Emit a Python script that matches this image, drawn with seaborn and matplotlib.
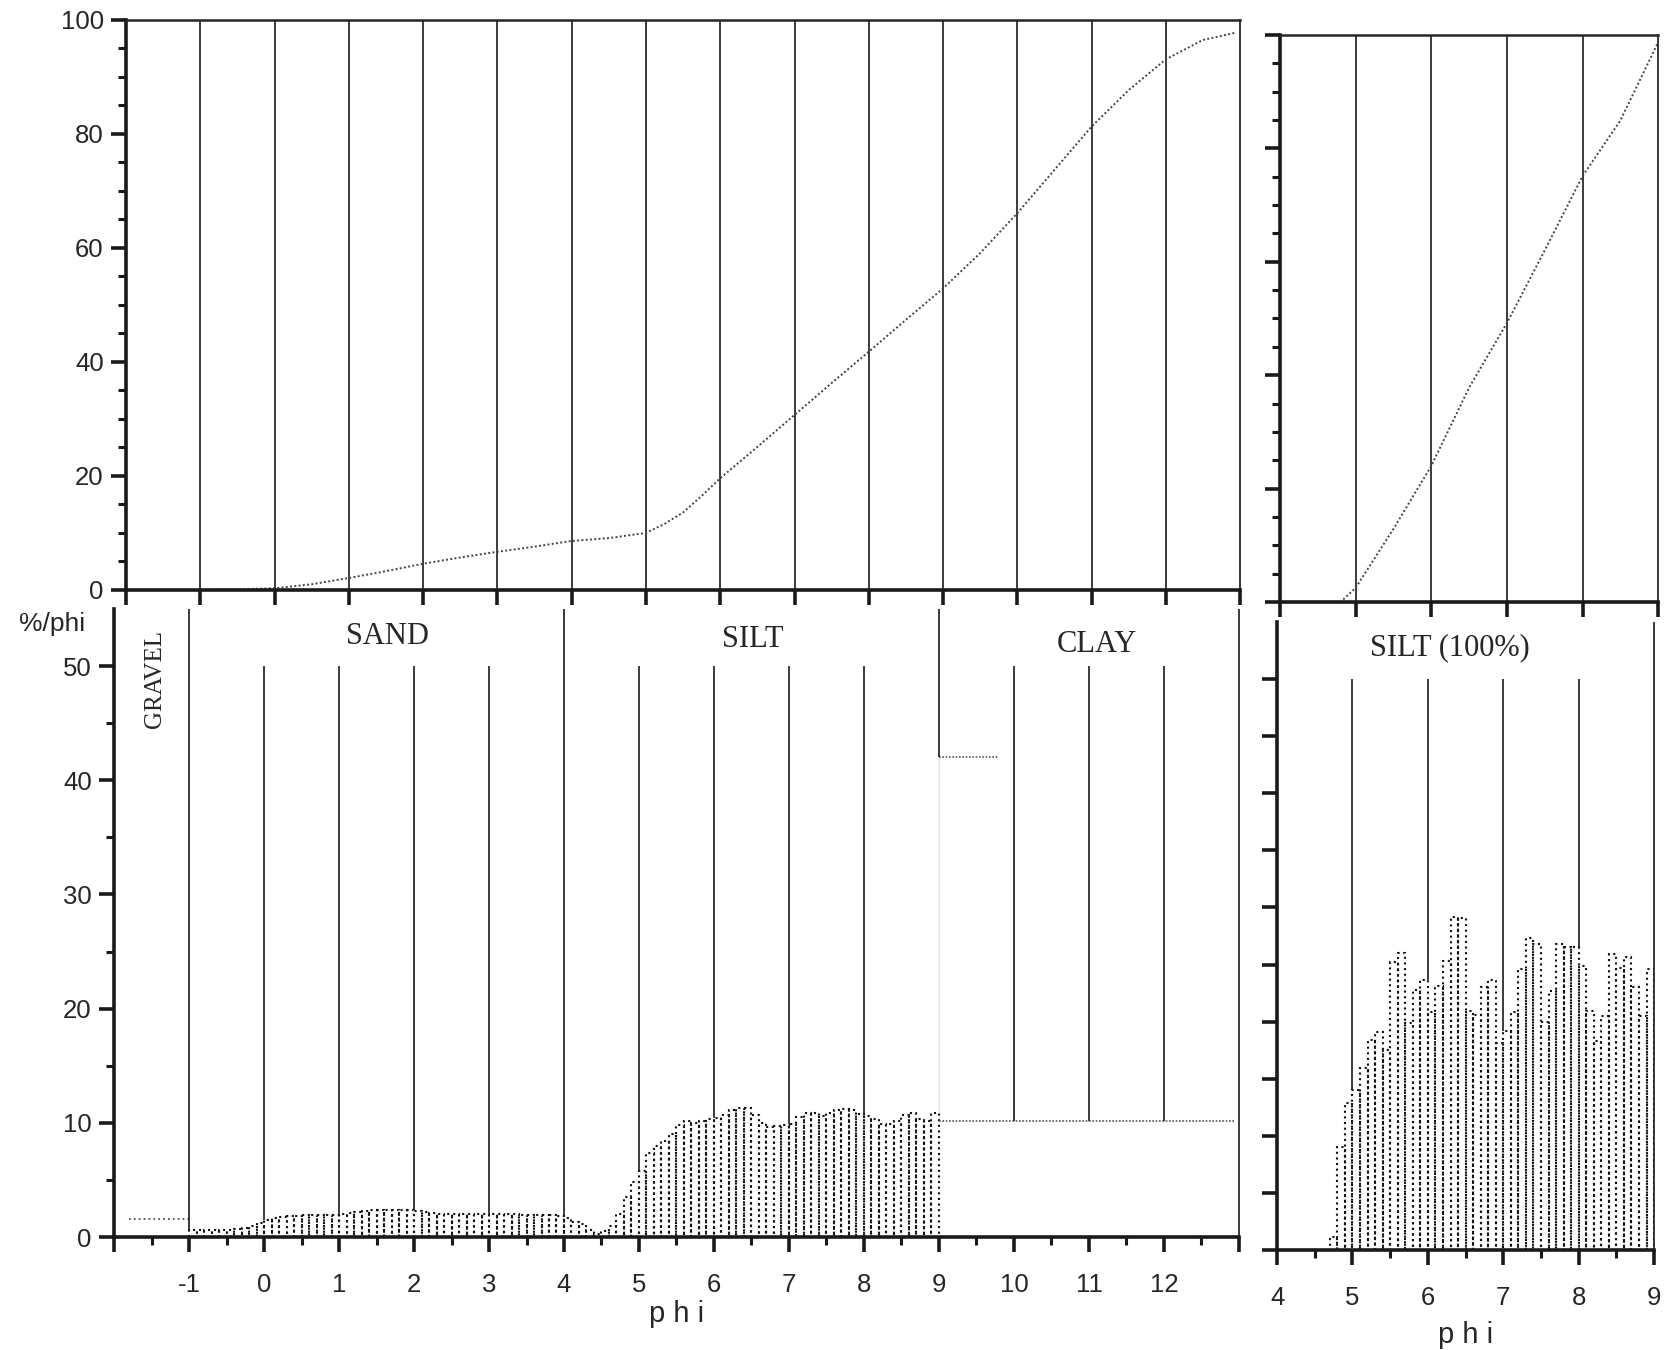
import numpy as np
import pandas as pd
import matplotlib
matplotlib.use("Agg")
import matplotlib.pyplot as plt
import seaborn as sns

# cumulative curve of the whole sample (%)
cum_phi = [-1, -0.5, 0, 0.5, 1, 1.5, 2, 2.5, 3, 3.5, 4, 4.5, 5, 5.25, 5.5,
           5.75, 6, 6.5, 7, 7.5, 8, 8.5, 9, 9.5, 10, 10.5, 11, 11.5, 12,
           12.5, 12.95]
cum_pct = [0, 0.1, 0.3, 1.0, 2.1, 3.3, 4.6, 5.7, 6.7, 7.6, 8.6, 9.1, 10.0,
           11.6, 13.6, 16.5, 19.6, 25.1, 30.7, 36.3, 41.8, 47.4, 52.9, 59.1,
           66.1, 73.7, 81.3, 87.7, 93.1, 96.5, 97.8]

# cumulative curve of the silt fraction alone (%)
silt_cum_phi = [4, 4.8, 5, 5.5, 6, 6.5, 7, 7.5, 8, 8.5, 9]
silt_cum_pct = [0, 0, 2.5, 12.9, 24.0, 37.8, 49.2, 62.0, 75.1, 84.9, 98.7]

# frequency (%/phi) in 0.1 phi classes from -1 to 9 phi
freq_start = -1.0
freq = [0.65, 0.65, 0.6, 0.6, 0.6, 0.65, 0.7, 0.8, 0.95, 1.2,
        1.5, 1.65, 1.75, 1.8, 1.85, 1.9, 1.9, 1.9, 1.9, 1.95,
        2.0, 2.1, 2.2, 2.3, 2.4, 2.4, 2.4, 2.4, 2.4, 2.35,
        2.3, 2.2, 2.1, 2.05, 2.05, 2.0, 2.0, 2.0, 2.0, 2.0,
        2.0, 2.0, 2.0, 2.0, 1.95, 1.95, 1.95, 1.95, 1.9, 1.85,
        1.7, 1.3, 1.1, 0.6, 0.3, 0.5, 1.0, 2.0, 3.5, 4.8,
        5.8, 7.4, 8.0, 8.4, 9.0, 9.8, 10.2, 10.0, 10.2, 10.3,
        10.4, 10.7, 11.1, 11.3, 11.3, 10.7, 10.0, 9.6, 9.7, 9.8,
        9.9, 10.5, 10.9, 10.9, 10.6, 10.9, 11.1, 11.2, 11.1, 10.8,
        10.6, 10.3, 9.9, 9.9, 10.2, 10.7, 10.9, 10.3, 10.2, 10.9]

gravel_phi = [-1.8, -1.0]
gravel_freq = 1.6
clay_phi = [9, 12.95]
clay_freq = 10.2
clay_total_phi = [9, 9.8]
clay_total = 42

# silt fraction alone, %/phi in 0.1 phi classes from 4 to 9 phi
silt_start = 4.0
silt_freq = [0, 0, 0, 0, 0, 0, 0,
             1.1, 9.0, 12.9, 14.0, 15.9, 18.4, 19.1, 17.5, 25.2, 26.0, 19.9,
             22.8, 23.6, 20.8, 23.1, 25.3, 29.2, 29.1, 20.9, 20.6, 23.0, 23.6,
             18.1, 19.2, 20.8, 24.6, 27.3, 26.8, 20.0, 22.7, 26.8, 26.5, 26.5,
             24.9, 20.9, 18.3, 20.5, 25.9, 24.7, 25.7, 23.0, 20.5, 24.6]

sns.set_style("white")
plt.rcParams['font.family'] = ['Liberation Sans', 'DejaVu Sans']
SERIF = ['Liberation Serif', 'DejaVu Serif']
INK = '#1a1a1a'
DOT = (0, (1, 1.7))

fig = plt.figure(figsize=(16.72, 13.5), dpi=100)
ax_cum = fig.add_axes([0.0754, 0.5630, 0.6663, 0.4222])
ax_frq = fig.add_axes([0.0682, 0.0837, 0.6728, 0.4652])
ax_scum = fig.add_axes([0.7656, 0.5541, 0.2261, 0.4200])
ax_sfrq = fig.add_axes([0.7638, 0.0741, 0.2255, 0.4652])


def bar_top(x, start, vals):
    i = int(round((x - start) / 0.1))
    near = [vals[j] for j in (i - 1, i) if 0 <= j < len(vals)]
    return max(near) if near else 0


def hist_frame(start, vals):
    centers = [round(start + 0.1 * i + 0.05, 3) for i in range(len(vals))]
    return pd.DataFrame({'phi': centers, 'pct': vals})


def style_axes(ax, full_box):
    for s in ['left', 'bottom']:
        ax.spines[s].set_linewidth(2.6)
        ax.spines[s].set_color(INK)
    ax.spines['top'].set_visible(full_box)
    ax.spines['right'].set_visible(full_box)
    ax.spines['top'].set_linewidth(1.8)
    ax.spines['right'].set_linewidth(1.3)
    ax.tick_params(bottom=True, left=True, which='both')
    ax.tick_params(which='major', direction='out', length=11, width=2.6,
                   color=INK, labelsize=18.5, pad=5)
    ax.tick_params(which='minor', direction='out', length=6, width=2.2,
                   color=INK)
    ax.set_xlabel('')
    ax.set_ylabel('')


# ---- top left: cumulative curve
ax = ax_cum
ax.vlines(np.arange(-1, 13), 0, 100, color=INK, lw=1.2)
sns.lineplot(x=cum_phi, y=cum_pct, ax=ax, color='#444444', lw=1.4,
             linestyle=(0, (1, 1.2)))
ax.set_xlim(-2, 13)
ax.set_ylim(0, 100)
style_axes(ax, True)
ax.set_xticks(np.arange(-2, 14))
ax.set_xticklabels([])
ax.set_yticks(np.arange(0, 101, 20))
ax.set_yticks(np.arange(0, 101, 5), minor=True)

# ---- bottom left: frequency histogram
ax = ax_frq
df = hist_frame(freq_start, freq)
sns.histplot(data=df, x='phi', weights='pct', binwidth=0.1,
             binrange=(freq_start, freq_start + 0.1 * len(freq)), ax=ax,
             fill=False, element='bars', color='#111111', linestyle=DOT,
             linewidth=1.5)
sns.lineplot(x=gravel_phi, y=[gravel_freq] * 2, ax=ax, color='#555555',
             lw=1.3, linestyle=DOT)
sns.lineplot(x=clay_phi, y=[clay_freq] * 2, ax=ax, color='#555555',
             lw=1.2, linestyle=(0, (1, 1)))
sns.lineplot(x=[clay_total_phi[0]] * 2, y=[clay_freq, clay_total], ax=ax,
             color='#777777', lw=1.2, linestyle=(0, (1, 1)))
sns.lineplot(x=clay_total_phi, y=[clay_total] * 2, ax=ax, color='#555555',
             lw=1.2, linestyle=(0, (1, 1)))
for k in range(0, 13):
    if k in (4, 9):
        continue
    low = clay_freq if k > 9 else bar_top(k, freq_start, freq)
    ax.vlines(k, low, 50, color=INK, lw=1.2)
ax.vlines(-1, freq[0], 55, color=INK, lw=1.2)
ax.vlines(4, bar_top(4, freq_start, freq), 55, color=INK, lw=1.2)
ax.vlines(9, clay_total, 55, color=INK, lw=1.2)
ax.vlines(13, 0, 55, color=INK, lw=1.2, clip_on=False)
ax.set_xlim(-2, 13)
ax.set_ylim(0, 55)
style_axes(ax, False)
ax.set_xticks(np.arange(-2, 14))
ax.set_xticklabels([''] + [str(v) for v in range(-1, 13)] + [''])
ax.set_xticks(np.arange(-1.5, 13, 1), minor=True)
ax.set_yticks(np.arange(0, 51, 10))
ax.set_yticks(np.arange(0, 51, 5), minor=True)
ax.tick_params(axis='x', which='major', pad=15)
ax.spines['left'].set_bounds(0, 55)
ax.set_xlabel('p h i', fontsize=21, labelpad=2)

ax.text(1.64, 52.6, 'SAND', family=SERIF, fontsize=22, ha='center', va='center')
ax.text(6.52, 52.3, 'SILT', family=SERIF, fontsize=22, ha='center', va='center')
ax.text(11.1, 51.9, 'CLAY', family=SERIF, fontsize=22, ha='center', va='center')
ax.text(-1.45, 48.9, 'GRAVEL', family=SERIF, fontsize=18, ha='center',
        va='center', rotation=90)
ax.text(-2.39, 53.7, '%/phi', fontsize=19, ha='right', va='center')

# ---- top right: cumulative curve of silt
ax = ax_scum
ax.vlines([5, 6, 7, 8], 0, 100, color=INK, lw=1.2)
sns.lineplot(x=silt_cum_phi, y=silt_cum_pct, ax=ax, color='#444444', lw=1.4,
             linestyle=(0, (1, 1.2)))
ax.set_xlim(4, 9)
ax.set_ylim(0, 100)
style_axes(ax, True)
ax.set_xticks(np.arange(4, 10))
ax.set_xticklabels([])
ax.set_yticks(np.arange(0, 101, 20))
ax.set_yticks(np.arange(0, 101, 5), minor=True)
ax.set_yticklabels([])

# ---- bottom right: silt histogram
ax = ax_sfrq
sdf = hist_frame(silt_start, silt_freq)
sns.histplot(data=sdf, x='phi', weights='pct', binwidth=0.1,
             binrange=(silt_start, silt_start + 0.1 * len(silt_freq)), ax=ax,
             fill=False, element='bars', color='#111111', linestyle=DOT,
             linewidth=1.5)
for k in [5, 6, 7, 8]:
    ax.vlines(k, bar_top(k, silt_start, silt_freq), 50, color=INK, lw=1.2)
ax.vlines(9, 0, 55, color=INK, lw=1.2, clip_on=False)
ax.set_xlim(4, 9)
ax.set_ylim(0, 55)
style_axes(ax, False)
ax.set_xticks(np.arange(4, 10))
ax.set_xticks(np.arange(4.5, 9, 1), minor=True)
ax.set_yticks(np.arange(0, 51, 5))
ax.set_yticklabels([])
ax.tick_params(axis='x', which='major', pad=15)
ax.set_xlabel('p h i', fontsize=21, labelpad=8)
ax.text(6.29, 52.7, 'SILT (100%)', family=SERIF, fontsize=22, ha='center',
        va='center')

fig.savefig('out.png', dpi=100)
